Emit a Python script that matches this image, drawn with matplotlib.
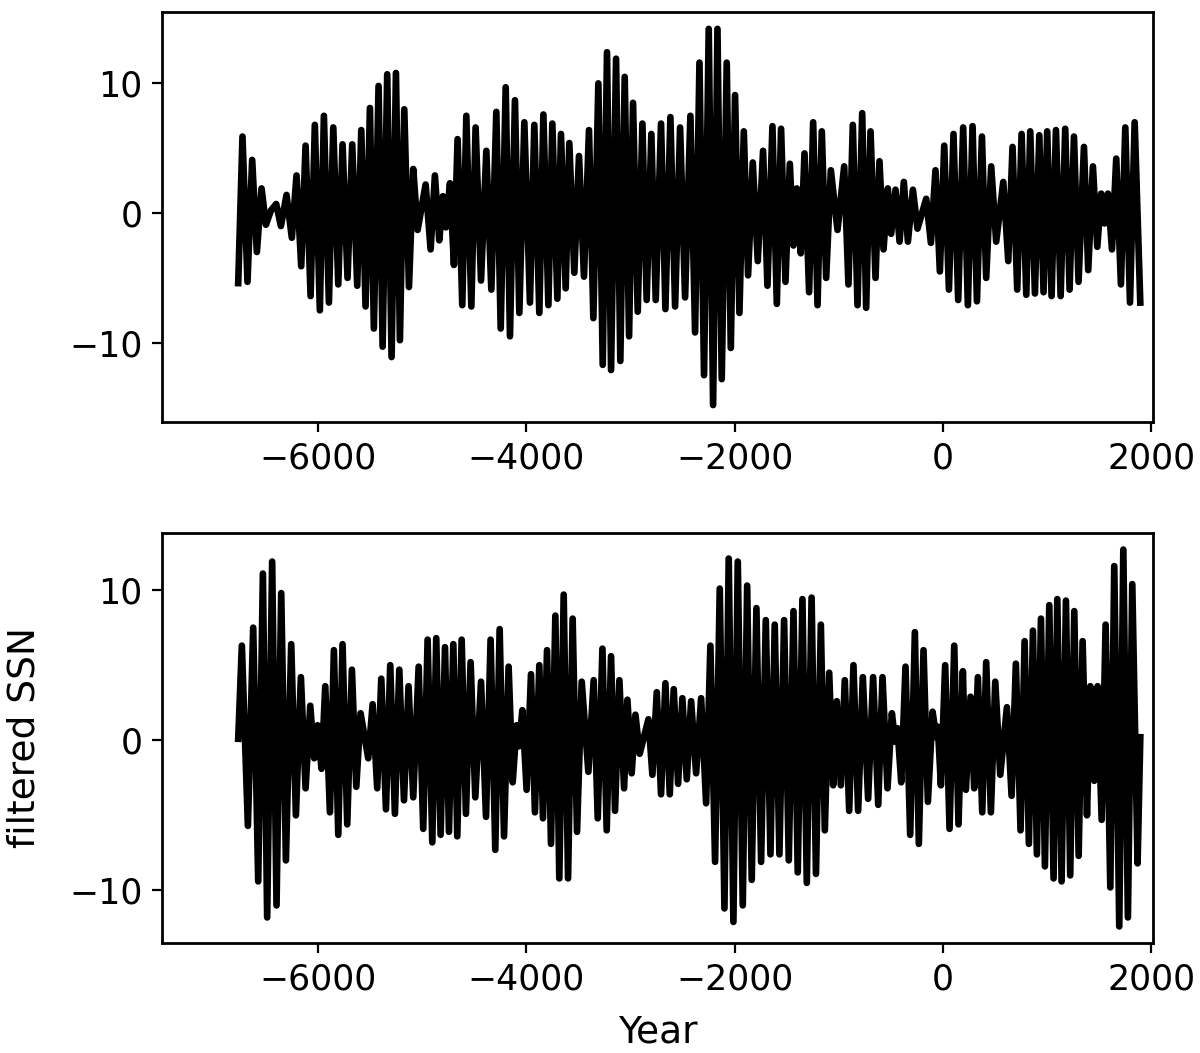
import numpy as np
import matplotlib
matplotlib.use("Agg")
import matplotlib.pyplot as plt

# ---- top panel: turning points (year, value) ----
top_years = [-6768, -6727, -6679, -6634, -6589, -6544, -6502, -6454, -6403, -6358,
             -6304, -6253, -6208, -6163, -6121, -6073, -6032, -5984, -5945, -5897,
             -5855, -5807, -5766, -5718, -5673, -5625, -5586, -5545, -5503, -5465,
             -5420, -5381, -5337, -5295, -5253, -5215, -5173, -5128, -5087, -5045,
             -4968, -4920, -4879, -4837, -4802, -4773, -4734, -4696, -4661, -4616,
             -4577, -4529, -4488, -4436, -4385, -4337, -4289,
             -4247, -4199, -4158, -4110, -4068, -4020, -3966, -3924, -3876, -3837,
             -3789, -3751, -3703, -3668, -3623, -3588, -3540, -3495, -3447, -3399,
             -3357, -3309, -3267, -3226, -3187, -3139, -3098, -3056, -3014, -2976,
             -2931, -2886, -2845, -2800, -2758, -2707, -2665, -2617, -2572, -2524,
             -2476, -2425, -2380, -2338, -2294, -2249, -2207, -2165, -2124, -2076,
             -2037, -1996, -1954, -1912, -1871, -1826, -1778, -1727, -1685, -1637,
             -1595, -1554, -1512, -1470, -1435, -1403, -1365, -1329, -1285, -1246,
             -1204, -1163, -1121, -1076, -1012, -948, -907, -865, -820, -775,
             -737, -695, -647, -609, -570, -529, -497, -455, -416, -375,
             -336, -288, -244, -160, -115, -71, -29, 13, 58, 102,
             147, 195, 240, 285, 327, 375, 416, 464, 512, 580,
             628, 669, 714, 756, 801, 839, 884, 926, 967, 1002,
             1044, 1086, 1131, 1175, 1217, 1259, 1303, 1355, 1396, 1441,
             1483, 1521, 1553, 1585, 1624, 1665, 1710, 1752, 1797, 1842, 1896]
top_values = [-5.4, 5.9, -5.3, 4.1, -3.0, 1.9, -0.9, 0.2, 0.7, -1.0,
              1.4, -1.9, 2.9, -4.1, 5.2, -6.4, 6.8, -7.5, 7.5, -6.9,
              6.6, -5.5, 5.3, -5.0, 5.3, -5.6, 6.4, -7.2, 8.1, -8.9,
              9.8, -10.3, 10.7, -11.1, 10.8, -9.8, 8.0, -5.7, 3.4, -1.3,
              2.2, -2.8, 2.9, -2.1, 1.3, -1.1, 2.3, -4.0, 5.7, -7.1,
              7.5, -7.2, 6.6, -5.2, 4.8, -5.9, 7.8,
              -8.9, 9.7, -9.5, 8.7, -7.7, 7.0, -6.9, 6.8, -7.7, 7.6,
              -7.1, 6.9, -6.6, 6.1, -5.8, 5.4, -4.6, 4.4, -4.9, 6.4,
              -8.1, 10.0, -11.7, 12.4, -12.1, 11.9, -11.4, 10.5, -9.5, 8.5,
              -7.6, 6.9, -6.7, 6.1, -6.7, 6.9, -7.4, 7.4, -7.2, 6.6,
              -6.5, 7.5, -9.2, 11.6, -12.5, 14.2, -14.8, 14.2, -12.8, 11.6,
              -10.4, 9.1, -7.7, 6.3, -4.8, 3.9, -3.7, 4.8, -5.6, 6.7,
              -7.0, 6.5, -5.3, 3.8, -2.5, 1.9, -3.1, 4.6, -6.1, 7.0,
              -7.1, 6.3, -5.0, 3.3, -1.3, 3.6, -5.5, 6.8, -7.1, 7.7,
              -7.3, 6.3, -5.0, 4.0, -2.8, 1.9, -1.6, 1.8, -2.2, 2.4,
              -2.2, 1.8, -1.2, 1.1, -2.3, 3.3, -4.5, 5.2, -5.9, 6.1,
              -6.7, 6.6, -7.1, 6.7, -6.8, 5.9, -5.0, 3.6, -2.2, 2.4,
              -3.7, 5.1, -5.9, 6.1, -6.3, 6.3, -6.2, 6.0, -6.1, 6.3,
              -6.4, 6.4, -6.4, 6.5, -5.9, 5.9, -5.3, 5.1, -4.4, 3.6,
              -2.6, 1.5, -0.8, 1.5, -2.8, 4.2, -5.5, 6.6, -6.9, 7.0, -6.9]

# ---- bottom panel: turning points (year, value) ----
bot_years = [-6768, -6733, -6675, -6624, -6576, -6531, -6490, -6442, -6400, -6355,
             -6310, -6259, -6214, -6166, -6121, -6076, -6038, -6006, -5968, -5932,
             -5887, -5849, -5807, -5766, -5721, -5676, -5634, -5593, -5519, -5477,
             -5433, -5394, -5349, -5308, -5263, -5221, -5176, -5132, -5087, -5035,
             -4991, -4949, -4904, -4866, -4824, -4782, -4744, -4702, -4664, -4622,
             -4581, -4536, -4491, -4436, -4388, -4344, -4299, -4257,
             -4215, -4171, -4132, -4094, -4071, -4039, -3998, -3956, -3918, -3876,
             -3841, -3802, -3764, -3722, -3684, -3642, -3600, -3556, -3514, -3469,
             -3405, -3354, -3315, -3270, -3229, -3187, -3149, -3107, -3062, -3030,
             -2989, -2953, -2912, -2828, -2790, -2748, -2707, -2665, -2623, -2585,
             -2543, -2502, -2460, -2418, -2370, -2322, -2274, -2233, -2188, -2143,
             -2098, -2057, -2012, -1970, -1922, -1880, -1836, -1791, -1746, -1701,
             -1656, -1615, -1570, -1525, -1480, -1435, -1394, -1349, -1307, -1261,
             -1219, -1172, -1134, -1092, -1054, -1019, -980, -942, -900, -859,
             -814, -769, -718, -670, -621, -580, -532, -490, -458, -436,
             -400, -359, -314, -269, -231, -186, -144, -99, -64, -48,
             -19, 22, 64, 109, 150, 192, 221, 266, 301, 336,
             378, 416, 461, 503, 551, 615, 660, 701, 746, 785,
             826, 865, 903, 942, 980, 1022, 1063, 1099, 1140, 1182,
             1223, 1262, 1304, 1342, 1384, 1416, 1454, 1486, 1525, 1563,
             1608, 1646, 1694, 1733, 1777, 1819, 1870, 1896]
bot_values = [0.1, 6.3, -5.7, 7.5, -9.4, 11.1, -11.8, 11.9, -11.0, 9.8,
              -8.0, 6.4, -5.0, 4.2, -3.2, 2.3, -1.2, 1.0, -1.9, 3.6,
              -4.8, 6.0, -6.3, 6.4, -5.6, 4.7, -3.1, 1.8, -1.2, 2.4,
              -3.2, 4.1, -4.6, 5.0, -4.9, 4.7, -4.0, 3.6, -3.8, 4.9,
              -5.9, 6.7, -6.8, 6.8, -6.3, 6.2, -6.1, 6.4, -6.4, 6.7,
              -4.9, 5.2, -3.8, 3.9, -5.1, 6.7, -7.3, 7.4,
              -6.4, 4.9, -2.8, 1.0, -0.4, 2.0, -3.3, 4.4, -4.8, 5.0,
              -5.2, 6.0, -6.9, 8.3, -9.2, 9.7, -9.2, 8.1, -6.1, 3.9,
              -2.1, 4.0, -5.2, 6.1, -6.0, 5.6, -4.7, 4.0, -3.2, 2.7,
              -2.2, 1.7, -0.9, 1.4, -2.3, 3.2, -3.6, 3.8, -3.6, 3.4,
              -2.9, 2.8, -2.6, 2.6, -2.2, 2.8, -4.2, 6.3, -8.1, 10.1,
              -11.2, 12.1, -12.1, 11.9, -11.0, 10.3, -9.3, 8.8, -8.1, 8.0,
              -7.6, 7.7, -7.6, 8.0, -8.0, 8.6, -8.8, 9.4, -9.5, 9.5,
              -8.9, 7.7, -6.0, 4.5, -3.0, 2.6, -3.0, 4.0, -4.7, 5.0,
              -4.7, 4.2, -3.9, 4.2, -4.3, 4.2, -3.2, 1.8, -0.1, 0.8,
              -2.8, 4.9, -6.3, 7.2, -6.9, 6.0, -4.1, 1.9, 0.2, 0.9,
              -3.0, 5.0, -5.9, 6.3, -5.6, 4.6, -3.3, 2.9, -3.2, 4.2,
              -4.8, 5.2, -4.8, 3.9, -2.3, 2.2, -3.7, 5.1, -6.0, 6.6,
              -6.9, 7.3, -7.6, 8.1, -8.4, 9.0, -9.2, 9.4, -9.4, 9.3,
              -9.0, 8.6, -7.7, 6.6, -5.0, 3.6, -2.7, 3.6, -5.3, 7.7,
              -9.8, 11.6, -12.4, 12.7, -11.8, 10.4, -8.2, 0.2]

x_ticks = [-6000, -4000, -2000, 0, 2000]
y_ticks = [-10, 0, 10]

plt.rcParams['font.family'] = ['DejaVu Sans']
plt.rcParams['font.size'] = 12
plt.rcParams['axes.unicode_minus'] = True

fig = plt.figure(figsize=(6, 5.265), dpi=200)
ax1 = fig.add_axes([0.135, 0.5993, 0.826, 0.3893])
ax2 = fig.add_axes([0.135, 0.1045, 0.826, 0.3893])

ax1.plot(top_years, top_values, color='black', lw=2.4, solid_joinstyle='round')
ax2.plot(bot_years, bot_values, color='black', lw=2.4, solid_joinstyle='round')

for ax in (ax1, ax2):
    ax.set_xlim(-7500, 2020)
    ax.set_xticks(x_ticks)
    ax.set_yticks(y_ticks)
    ax.tick_params(labelsize=12.5)
    for s in ax.spines.values():
        s.set_linewidth(1.0)

ax1.set_ylim(-16.1, 15.5)
ax2.set_ylim(-13.5, 13.8)
ax2.set_ylabel('filtered SSN', fontsize=13.5)
ax2.set_xlabel('Year', fontsize=13.5)
ax2.yaxis.set_label_coords(-0.121, 0.5)
ax2.xaxis.set_label_coords(0.5, -0.175)

fig.savefig('out.png', dpi=200)
